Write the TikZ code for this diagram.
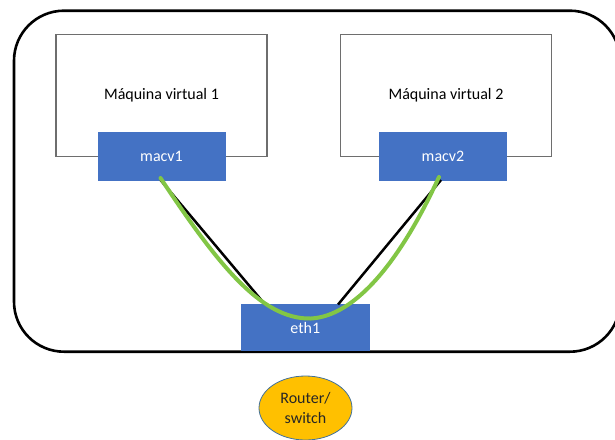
\documentclass[tikz,border=0pt]{standalone}
\usepackage{fontspec}
\setmainfont{Carlito}
\usetikzlibrary{shapes.geometric,calc}
\definecolor{ifblue}{HTML}{4472C4}
\definecolor{linkgreen}{HTML}{82C645}
\definecolor{vmgray}{HTML}{6E6E6E}
\definecolor{routerfill}{HTML}{FFC000}
\definecolor{routerline}{HTML}{41719C}
\begin{document}
\begin{tikzpicture}[x=1pt,y=-1pt,
  every node/.style={inner sep=0pt, outer sep=0pt, font=\fontsize{16}{20}\selectfont},
  hostbox/.style={draw=black, line width=2.6pt, rounded corners=50pt, fill=white},
  vmbox/.style={draw=vmgray, line width=1.3pt, fill=white, text=black!85},
  ifbox/.style={draw=ifblue, fill=ifblue, line width=0.8pt, text=white},
  routernode/.style={ellipse, draw=routerline, line width=0.8pt, fill=routerfill,
    text=black!85, align=center},
  wire/.style={draw=black, line width=2.5pt},
  greenlink/.style={draw=linkgreen, line width=4pt, line cap=round}]
\useasboundingbox (0,0) rectangle (615,439);

% host enclosure
\node[hostbox, minimum width=606pt, minimum height=341pt] (host) at (317,181.2) {};

% virtual machines
\node[vmbox, minimum width=211pt, minimum height=122pt] (vm1) at (161.5,95.4) {};
\node[vmbox, minimum width=211.5pt, minimum height=122pt] (vm2) at (446,95.4) {};
\node (vm1label) at (vm1.center) {Máquina virtual 1};
\node (vm2label) at (vm2.center) {Máquina virtual 2};

% macvtap interfaces and the physical NIC
\node[ifbox, minimum width=127pt, minimum height=48pt] (macv1) at (161.5,156) {macv1};
\node[ifbox, minimum width=127pt, minimum height=48pt] (macv2) at (443,156) {macv2};
\node[ifbox, minimum width=127.5pt, minimum height=46pt] (eth1) at (305.3,327.5) {eth1};

% external router
\node[routernode, minimum width=93pt, minimum height=64pt] (router) at (305.5,408)
  {Router/\\switch};

% wiring between interfaces
\coordinate (m1) at ($(macv1.south)+(-1,0)$);
\coordinate (m2) at ($(macv2.south)+(-2,0)$);
\coordinate (e1l) at ($(eth1.north west)+(23.5,0)$);
\coordinate (e1r) at ($(eth1.north west)+(96.5,0)$);
\coordinate (bend) at ($(eth1.north west)+(69.5,14)$);
\draw[wire] (m1) -- (e1l);
\draw[wire] (m2) -- (e1r);
\draw[greenlink] ($(m1)+(0,-2)$) .. controls (215,260) and (260,320) .. (bend)
  .. controls (355,316) and (400,262) .. ($(m2)+(-2,-3)$);
\end{tikzpicture}
\end{document}
